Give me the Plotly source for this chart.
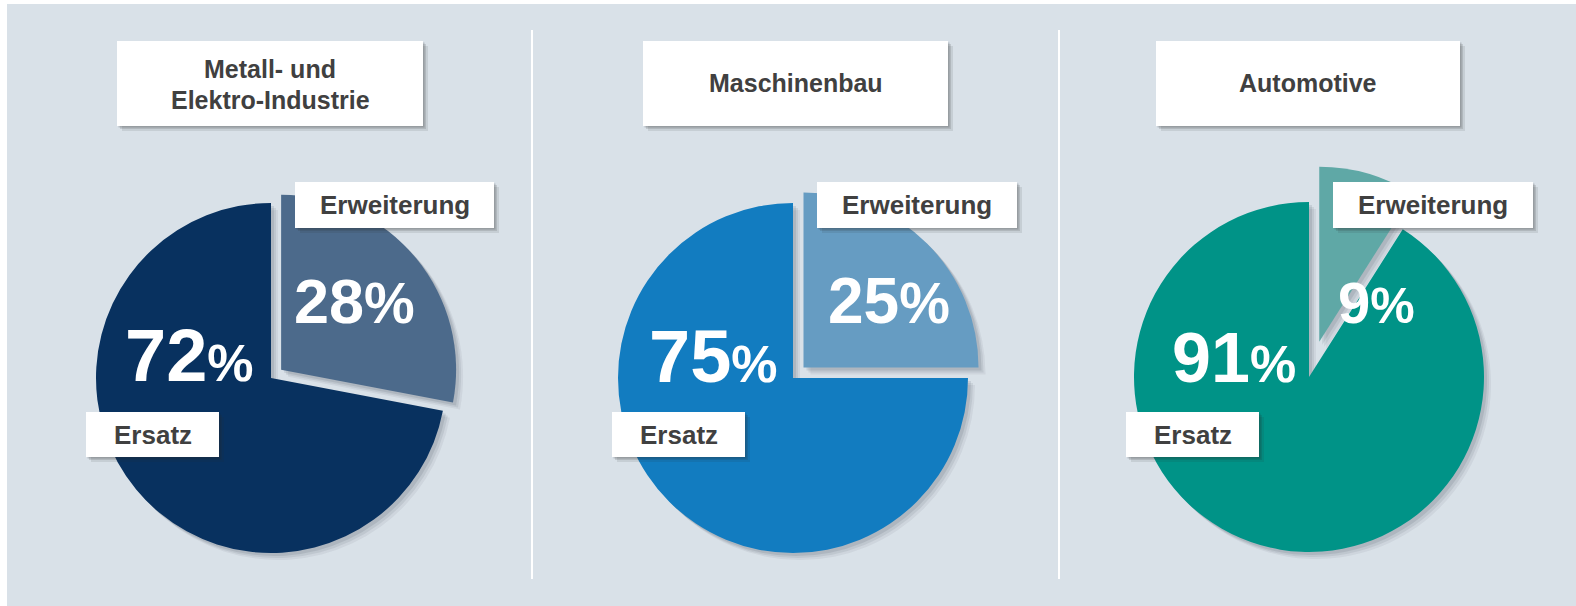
import plotly.graph_objects as go

# ---------------- data ----------------
categories = ["Metall- und Elektro-Industrie", "Maschinenbau", "Automotive"]
title_lines = [["Metall- und", "Elektro-Industrie"], ["Maschinenbau"], ["Automotive"]]
segment_labels = ["Erweiterung", "Ersatz"]
erweiterung = [28, 25, 9]
ersatz = [72, 75, 91]

# ---------------- styling / layout ----------------
W, H = 1576, 606
BG = "#d9e1e8"
TEXT = "#404040"
FONT = "Liberation Sans, Arial, sans-serif"
colors_ersatz = ["#08315f", "#127cc0", "#009387"]
colors_erw = ["#4c6a8b", "#669cc2", "#5fa8a6"]
pulls = [0.075, 0.085, 0.21]
centers = [(271, 378), (793, 378), (1309, 377)]
R = 175

title_boxes = [(117, 41, 423, 126), (643, 41, 948, 126), (1156, 41, 1460, 126)]
erw_boxes = [(295, 182, 494, 228), (817, 182, 1017, 228), (1333, 182, 1533, 228)]
ers_boxes = [(86, 412, 219, 457), (612, 412, 745, 457), (1126, 412, 1259, 457)]

# percentage label placement (center x, baseline y, big size, pct size)
pct_ers_pos = [(189, 381, 74, 52), (713, 382, 74, 52), (1234, 382, 70, 52)]
pct_erw_pos = [(354, 323, 63, 57), (889, 323, 64, 57), (1376, 323, 58, 50)]


def px(x):
    return x / W


def py(y):
    return 1 - y / H


fig = go.Figure()


def pie_domain(cx, cy, pull, dx=0, dy=0):
    half = R * (1 + pull)
    halfw = half + 15
    return dict(x=[px(cx + dx - halfw), px(cx + dx + halfw)],
                y=[py(cy + dy + half), py(cy + dy - half)])


# soft shadows beneath the pies
for i in range(3):
    cx, cy = centers[i]
    for off, a in [(7, 0.06), (5, 0.08), (3, 0.10)]:
        fig.add_trace(go.Pie(
            values=[erweiterung[i], ersatz[i]], labels=segment_labels,
            sort=False, direction="clockwise", rotation=0,
            pull=[pulls[i], 0],
            marker=dict(colors=[f"rgba(30,40,55,{a})"] * 2, line=dict(width=0)),
            textinfo="none", hoverinfo="skip", showlegend=False,
            domain=pie_domain(cx, cy, pulls[i], off, off),
        ))

# main pies
for i in range(3):
    cx, cy = centers[i]
    fig.add_trace(go.Pie(
        values=[erweiterung[i], ersatz[i]], labels=segment_labels,
        sort=False, direction="clockwise", rotation=0,
        pull=[pulls[i], 0],
        marker=dict(colors=[colors_erw[i], colors_ersatz[i]], line=dict(width=0)),
        textinfo="none", hoverinfo="skip", showlegend=False,
        name=categories[i],
        domain=pie_domain(cx, cy, pulls[i]),
    ))

shapes = []
# background panel
shapes.append(dict(type="rect", xref="paper", yref="paper", layer="below",
                   x0=px(7), x1=px(W), y0=py(H), y1=py(4),
                   fillcolor=BG, line=dict(width=0)))
# separators
for sx in [532, 1059]:
    shapes.append(dict(type="line", xref="paper", yref="paper", layer="below",
                       x0=px(sx), x1=px(sx), y0=py(579), y1=py(30),
                       line=dict(color="white", width=2)))


def box(b):
    x0, y0, x1, y1 = b
    for off, a in [(5, 0.10), (3, 0.14), (1.5, 0.18)]:
        shapes.append(dict(type="rect", xref="paper", yref="paper", layer="above",
                           x0=px(x0 + off), x1=px(x1 + off), y0=py(y1 + off), y1=py(y0 + off),
                           fillcolor=f"rgba(40,40,40,{a})", line=dict(width=0)))
    shapes.append(dict(type="rect", xref="paper", yref="paper", layer="above",
                       x0=px(x0), x1=px(x1), y0=py(y1), y1=py(y0),
                       fillcolor="white", line=dict(width=0)))


for b in title_boxes + erw_boxes + ers_boxes:
    box(b)

annotations = []


def ann(text, x, y, size, color=TEXT):
    annotations.append(dict(text=text, xref="paper", yref="paper", x=px(x), y=py(y),
                            xanchor="center", yanchor="middle", showarrow=False,
                            font=dict(family=FONT, size=size, color=color)))


# titles
for i, lines in enumerate(title_lines):
    x0, y0, x1, y1 = title_boxes[i]
    xc = (x0 + x1) / 2
    if len(lines) == 1:
        ann(f"<b>{lines[0]}</b>", xc, (y0 + y1) / 2, 25)
    else:
        ann(f"<b>{lines[0]}</b>", xc, 69, 25)
        ann(f"<b>{lines[1]}</b>", xc, 100, 25)

# segment labels
for i in range(3):
    x0, y0, x1, y1 = erw_boxes[i]
    ann(f"<b>{segment_labels[0]}</b>", (x0 + x1) / 2, (y0 + y1) / 2, 26)
    x0, y0, x1, y1 = ers_boxes[i]
    ann(f"<b>{segment_labels[1]}</b>", (x0 + x1) / 2, (y0 + y1) / 2, 26)

# percentages
for i in range(3):
    for val, (xc, base, big, small) in [(ersatz[i], pct_ers_pos[i]), (erweiterung[i], pct_erw_pos[i])]:
        txt = f"<b>{val}<span style='font-size:{small}px'>%</span></b>"
        ann(txt, xc, base - 0.3465 * big, big, color="white")

fig.update_layout(
    width=W, height=H,
    margin=dict(l=0, r=0, t=0, b=0),
    paper_bgcolor="white", plot_bgcolor="white",
    shapes=shapes, annotations=annotations,
)

fig.write_html("out.html",
               config={"displayModeBar": False, "staticPlot": True},
               post_script="document.body.style.margin='0';document.body.style.overflow='hidden';")
